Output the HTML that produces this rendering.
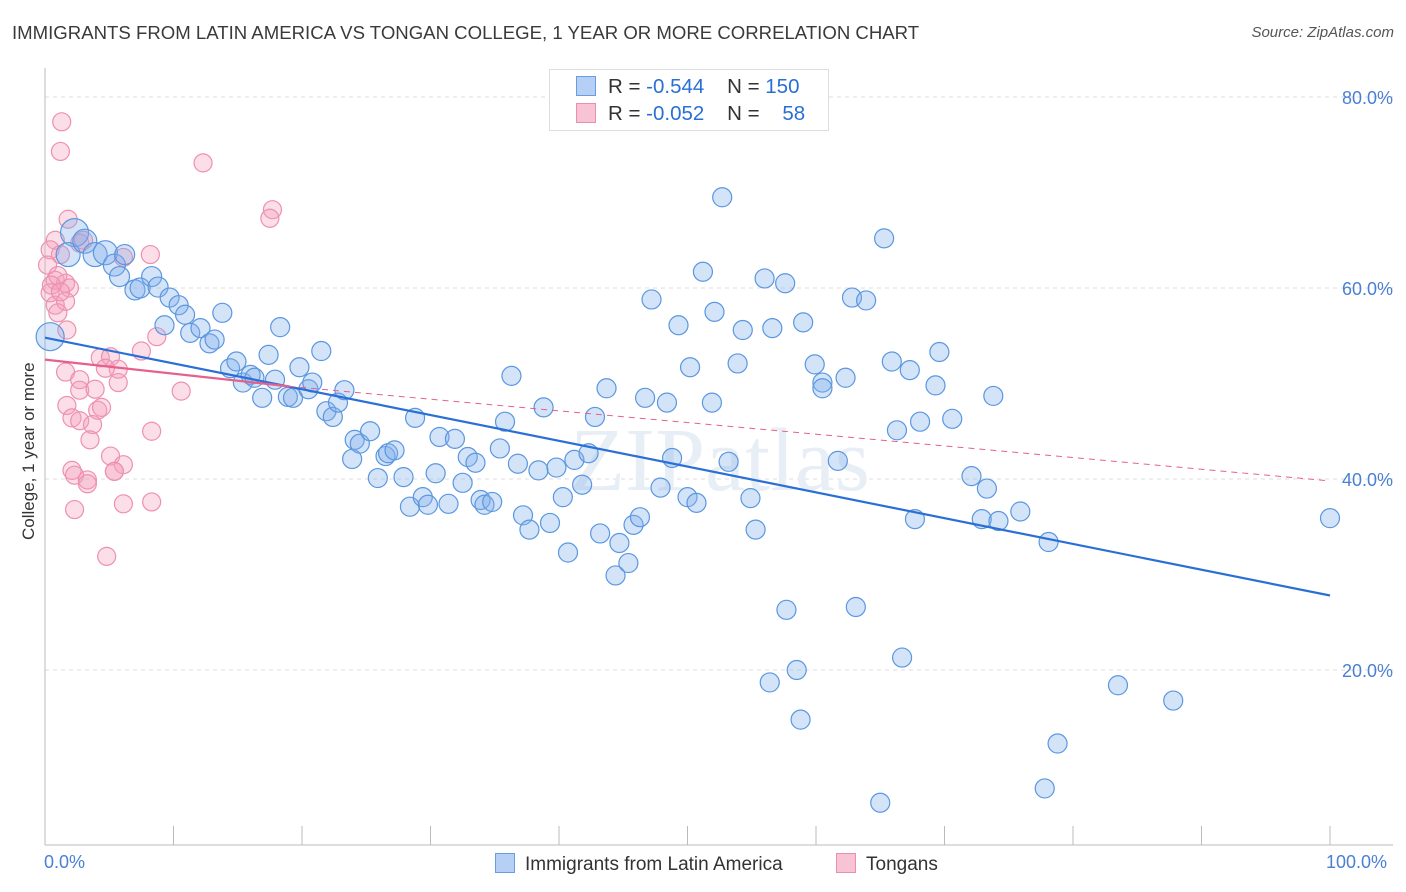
<!DOCTYPE html>
<html><head><meta charset="utf-8">
<style>
body{margin:0;background:#fff;font-family:"Liberation Sans",sans-serif;}
#wrap{position:relative;width:1406px;height:892px;overflow:hidden;}
.t{position:absolute;white-space:nowrap;}
</style></head>
<body>
<div id="wrap">
<div class="t" style="left:12px;top:22px;font-size:18.6px;color:#3a3a3a;">IMMIGRANTS FROM LATIN AMERICA VS TONGAN COLLEGE, 1 YEAR OR MORE CORRELATION CHART</div>
<div class="t" style="right:12px;top:24px;font-size:15px;color:#555;font-style:italic;">Source: ZipAtlas.com</div>
<svg id="plot" width="1406" height="892" style="position:absolute;left:0;top:0"></svg>
</div>
<script>
const yTicks=[20,40,60,80];
const yTickLabels=["20.0%","40.0%","60.0%","80.0%"];
const blueX=[0.4,2.3,1.8,3.1,3.9,4.7,5.4,6.2,5.8,7.0,7.4,8.3,8.8,9.3,9.7,10.4,10.9,11.3,12.1,12.8,13.2,13.8,14.4,14.9,15.4,16.0,16.3,16.9,17.4,17.9,18.3,18.9,19.3,19.8,20.5,20.8,21.5,21.9,22.4,22.8,23.3,23.9,24.1,24.5,25.3,25.9,26.5,26.7,27.2,27.9,28.4,28.8,29.4,29.8,30.4,30.7,31.4,31.9,32.5,32.9,33.5,33.9,34.2,34.8,35.4,35.8,36.3,36.8,37.2,37.7,38.4,38.8,39.3,39.8,40.3,40.7,41.2,41.8,42.3,42.8,43.2,43.7,44.4,44.7,45.4,45.8,46.3,46.7,47.2,47.9,48.4,48.8,49.3,50.0,50.2,50.7,51.2,51.9,52.1,52.7,53.2,53.9,54.3,54.9,55.3,56.0,56.6,57.6,57.7,58.5,59.0,56.4,58.8,59.9,60.5,60.5,61.7,62.3,62.8,63.1,63.9,65.0,65.3,65.9,66.3,66.7,67.3,67.7,68.1,69.3,69.6,70.6,72.1,72.9,73.3,73.8,74.2,75.9,78.1,77.8,78.8,83.5,87.8,100.0];
const blueY=[54.9,65.8,63.5,64.9,63.5,63.7,62.4,63.5,61.2,59.8,60.0,61.2,60.1,56.1,59.0,58.2,57.2,55.3,55.8,54.2,54.6,57.4,51.6,52.3,50.1,50.9,50.6,48.5,53.0,50.4,55.9,48.6,48.5,51.7,49.4,50.1,53.4,47.1,46.5,48.0,49.3,42.1,44.1,43.7,45.0,40.1,42.4,42.7,43.0,40.2,37.1,46.4,38.1,37.3,40.6,44.4,37.4,44.2,39.6,42.3,41.7,37.8,37.3,37.6,43.2,46.0,50.8,41.6,36.2,34.7,40.9,47.5,35.4,41.2,38.1,32.3,42.0,39.4,42.7,46.5,34.3,49.5,29.9,33.3,31.2,35.2,36.0,48.5,58.8,39.1,48.0,42.2,56.1,38.1,51.7,37.5,61.7,48.0,57.5,69.5,41.8,52.1,55.6,38.0,34.7,61.0,55.8,60.5,26.3,20.0,56.4,18.7,14.8,52.0,50.1,49.5,41.9,50.6,59.0,26.6,58.7,6.1,65.2,52.3,45.1,21.3,51.4,35.8,46.0,49.8,53.3,46.3,40.3,35.8,39.0,48.7,35.6,36.6,33.4,7.6,12.3,18.4,16.8,35.9];
const blueBig=[14,14,12,12,12,12,11,10,10,10,10,10,10];
const pinkX=[1.3,1.2,12.3,17.7,17.5,1.8,0.8,0.4,2.7,3.0,1.2,0.2,0.8,1.6,0.4,1.9,0.8,1.6,1.0,6.1,8.2,1.0,0.5,1.2,1.7,8.7,7.5,4.3,5.1,5.7,1.6,2.7,2.7,3.9,4.7,5.7,1.7,2.1,2.7,4.1,4.4,3.7,3.5,5.1,6.1,5.4,8.3,10.6,2.1,2.3,3.3,3.3,5.4,2.3,6.1,8.3,4.8];
const pinkY=[77.4,74.3,73.1,68.2,67.3,67.2,65.0,64.0,64.7,65.0,63.5,62.4,60.8,60.5,59.5,60.0,58.2,58.6,57.4,63.2,63.5,61.3,60.3,59.6,55.6,54.9,53.4,52.7,52.8,51.5,51.2,50.4,49.3,49.4,51.6,50.1,47.7,46.4,46.1,47.2,47.5,45.7,44.1,42.4,41.5,40.8,45.0,49.2,40.9,40.4,39.9,39.5,40.8,36.8,37.4,37.6,31.9];
const blueTrend=[[0,54.8],[100,27.8]];
const pinkTrend=[[0,52.5],[19,49.7],[100,39.8]];

const svg=document.getElementById('plot');const NS='http://www.w3.org/2000/svg';
const X0=45,X1=1330,Y0=861,YS=9.55;
const sx=v=>X0+(X1-X0)*v/100, sy=v=>Y0-v*YS;
function mk(tag,a,p){const e=document.createElementNS(NS,tag);for(const k in a)e.setAttribute(k,a[k]);(p||svg).appendChild(e);return e;}
yTicks.forEach((t,i)=>{const g=mk('line',{x1:X0,x2:1393,y1:sy(t),y2:sy(t),stroke:'#ddd','stroke-dasharray':'4,4'});


const tx=mk('text',{x:1393,y:sy(t)+7,'text-anchor':'end','font-size':18,fill:'#4a7fd4','font-family':'Liberation Sans, sans-serif'});tx.textContent=yTickLabels[i];

});
const ax=mk('line',{x1:X0,x2:X0,y1:68,y2:845,stroke:'#bbb'});


const bx=mk('line',{x1:X0,x2:1393,y1:845,y2:845,stroke:'#bbb'});


for(let i=0;i<=10;i++){const tk=mk('line',{x1:sx(i*10),x2:sx(i*10),y1:826,y2:845,stroke:'#bbb'});

}
const wm=mk('text',{x:720,y:490,'text-anchor':'middle','font-size':90,fill:'#e8eef6','font-family':'Liberation Serif, serif'});wm.textContent='ZIPatlas';


pinkX.forEach((x,i)=>{const c=mk('circle',{cx:sx(x),cy:sy(pinkY[i]),r:9,fill:'rgba(244,160,188,0.35)',stroke:'#ee90b0','stroke-width':1.2});

});
blueX.forEach((x,i)=>{const c=mk('circle',{cx:sx(x),cy:sy(blueY[i]),r:blueBig[i]||9.5,fill:'rgba(130,175,235,0.35)',stroke:'#5b97e0','stroke-width':1.2});

});
const bl=mk('line',{x1:sx(blueTrend[0][0]),y1:sy(blueTrend[0][1]),x2:sx(blueTrend[1][0]),y2:sy(blueTrend[1][1]),stroke:'#2a6fd6','stroke-width':2.2});


const pl=mk('line',{x1:sx(pinkTrend[0][0]),y1:sy(pinkTrend[0][1]),x2:sx(pinkTrend[1][0]),y2:sy(pinkTrend[1][1]),stroke:'#e5608e','stroke-width':2.2});


const pd=mk('line',{x1:sx(pinkTrend[1][0]),y1:sy(pinkTrend[1][1]),x2:sx(pinkTrend[2][0]),y2:sy(pinkTrend[2][1]),stroke:'#e5608e','stroke-width':1,'stroke-dasharray':'6,5'});


</script>
<div class="t" style="left:-56px;top:445px;font-size:17px;color:#333;transform:rotate(-90deg);width:170px;text-align:center;">College, 1 year or more</div>
<div class="t" style="left:44px;top:852px;font-size:18px;color:#4a7fd4;">0.0%</div>
<div class="t" style="left:1326px;top:852px;font-size:18px;color:#4a7fd4;">100.0%</div>
<div style="position:absolute;left:549px;top:69px;width:278px;height:60px;border:1px solid #ddd;background:#fff;font-size:20.5px;color:#333;">
 <div style="position:absolute;left:26px;top:6px;width:18px;height:18px;background:#b5cff5;border:1px solid #6a9de0;"></div>
 <div class="t" style="left:58px;top:5px;">R = <span style="color:#2a6fd6">-0.544</span>&nbsp;&nbsp;&nbsp;&nbsp;N = <span style="color:#2a6fd6">150</span></div>
 <div style="position:absolute;left:26px;top:33px;width:18px;height:18px;background:#f8c4d5;border:1px solid #ea8fae;"></div>
 <div class="t" style="left:58px;top:32px;">R = <span style="color:#2a6fd6">-0.052</span>&nbsp;&nbsp;&nbsp;&nbsp;N = &nbsp;&nbsp;&nbsp;<span style="color:#2a6fd6">58</span></div>
</div>
<div style="position:absolute;left:495px;top:853px;font-size:19px;color:#333;">
 <span style="display:inline-block;width:18px;height:18px;background:#b5cff5;border:1px solid #6a9de0;vertical-align:-3px;margin-right:10px;"></span>Immigrants from Latin America</div>
<div style="position:absolute;left:836px;top:853px;font-size:19px;color:#333;">
 <span style="display:inline-block;width:18px;height:18px;background:#f8c4d5;border:1px solid #ea8fae;vertical-align:-3px;margin-right:10px;"></span>Tongans</div>
</body></html>
